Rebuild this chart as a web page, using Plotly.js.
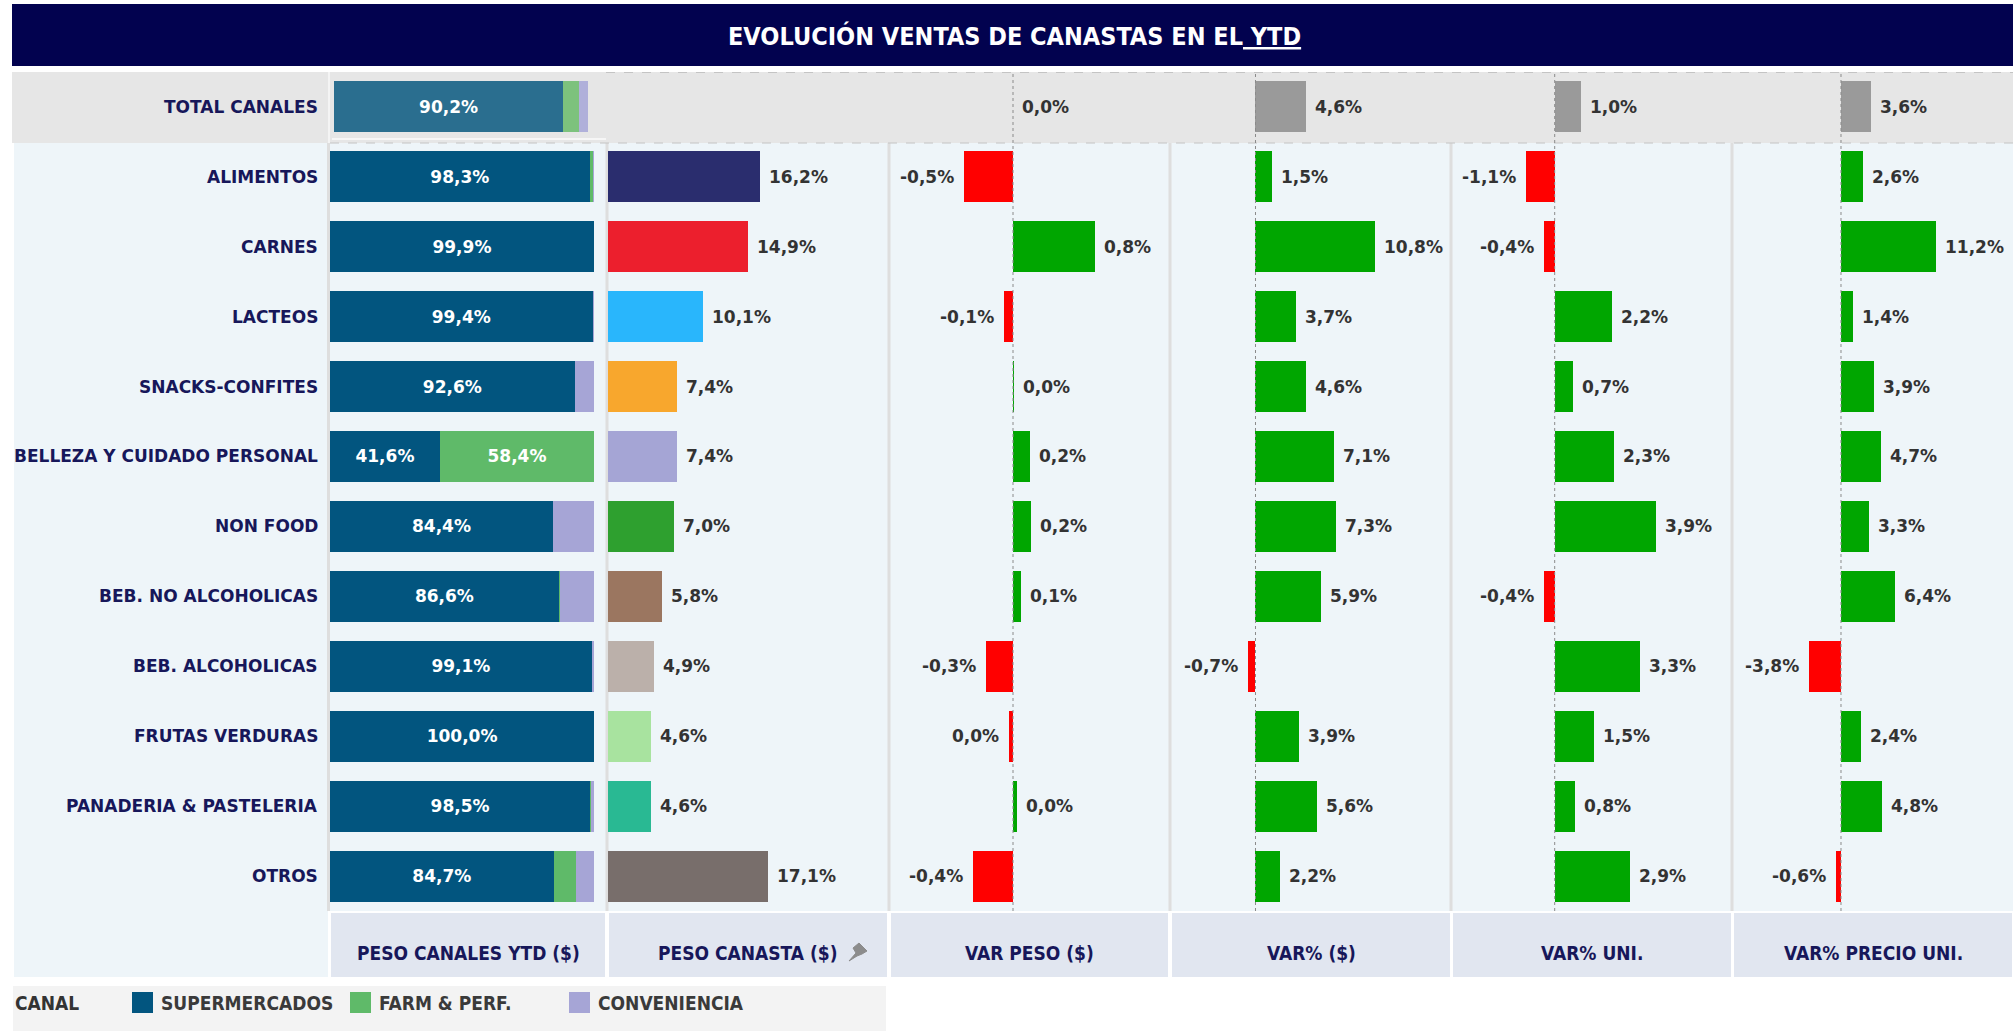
<!DOCTYPE html>
<html>
<head>
<meta charset="utf-8">
<script src="https://cdn.plot.ly/plotly-3.0.1.min.js"></script>
<style>html,body{margin:0;padding:0;background:#fff;}#chart{width:2013px;height:1031px;}</style>
</head>
<body>
<div id="chart"></div>
<script>
// ---------------- DATA ----------------
const categories = ['TOTAL CANALES','ALIMENTOS','CARNES','LACTEOS','SNACKS-CONFITES','BELLEZA Y CUIDADO PERSONAL','NON FOOD','BEB. NO ALCOHOLICAS','BEB. ALCOHOLICAS','FRUTAS VERDURAS','PANADERIA & PASTELERIA','OTROS'];
// Peso canales YTD ($), share by channel (%)
const supermercados = [90.2, 98.3, 99.9, 99.4, 92.6, 41.6, 84.4, 86.6, 99.1, 100.0, 98.5, 84.7];
const farmPerf      = [ 6.2,  1.2,  0.0,  0.3,  0.0, 58.4,  0.0,  0.3,  0.2,   0.0,  0.2,  8.3];
const conveniencia  = [ 3.6,  0.5,  0.1,  0.3,  7.4,  0.0, 15.6, 13.1,  0.7,   0.0,  1.3,  7.0];
// Peso canasta ($) %
const pesoCanasta = [null, 16.2, 14.9, 10.1, 7.4, 7.4, 7.0, 5.8, 4.9, 4.6, 4.6, 17.1];
// Var peso ($) points
const varPeso = [0.0, -0.49, 0.82, -0.09, 0.01, 0.17, 0.18, 0.08, -0.27, -0.04, 0.04, -0.40];
// Var% ($)
const varPesos = [4.6, 1.5, 10.8, 3.7, 4.6, 7.1, 7.3, 5.9, -0.7, 3.9, 5.6, 2.2];
// Var% uni.
const varUni = [1.0, -1.1, -0.4, 2.2, 0.7, 2.3, 3.9, -0.4, 3.3, 1.5, 0.8, 2.9];
// Var% precio uni.
const varPrecio = [3.6, 2.6, 11.2, 1.4, 3.9, 4.7, 3.3, 6.4, -3.8, 2.4, 4.8, -0.6];

const panelTitles = ['PESO CANALES YTD ($)','PESO CANASTA ($)','VAR PESO ($)','VAR% ($)','VAR% UNI.','VAR% PRECIO UNI.'];
const legendLabels = ['SUPERMERCADOS','FARM & PERF.','CONVENIENCIA'];

// ---------------- STYLE ----------------
const W = 2013, H = 1031;
const px = x => x / W;
const py = y => 1 - y / H;
const NARROW = 'Liberation Sans Narrow, DejaVu Sans Condensed, Arial Narrow, sans-serif';
const BOOK = 'DejaVu Sans, Verdana, sans-serif';
const NAVY = '#17175a';
const canastaColors = ['rgba(0,0,0,0)','#2a2d6e','#ec1f2d','#29b6fc','#f8a72d','#a5a5d5','#2ea02f','#9b7660','#bbb0aa','#a8e39f','#29b993','#786e6b'];
const chanColorsMain = ['#02557f','#5fba69','#a6a5d6'];
const chanColorsTotal = ['#2a6e8f','#7dc27d','#b0b0da'];
const POS = '#00a600', NEG = '#ff0000', TOT = '#9a9a9a';

// panel pixel boxes
const panels = [[330,606],[608,888],[890,1169],[1171,1451],[1452,1732],[1733,2013]];
const ranges = [[0,104.5],[0,29.9],[-1.23,1.56],[-7.64,17.68],[-3.95,6.82],[-12.75,20.31]];

const fmt = v => {
  if (v === null) return '';
  let s = Math.abs(v) < 0.05 ? '0.0' : v.toFixed(1);
  return s.replace('.', ',') + '%';
};

const BW = 0.73;
const traces = [];
// Panel 1 stacked: category rows on x, total row on its own scale (x7)
[supermercados, farmPerf, conveniencia].forEach((arr, k) => {
  traces.push({
    type:'bar', orientation:'h', xaxis:'x', yaxis:'y',
    y: categories.slice(1), x: arr.slice(1), width: BW,
    marker:{color: chanColorsMain[k]},
    text: arr.slice(1).map(v => v >= 30 ? fmt(v) : ''),
    textposition:'inside', insidetextanchor:'middle', constraintext:'none',
    textfont:{family:BOOK, size:17, color:'#ffffff', weight:'bold'},
    hoverinfo:'skip'
  });
  traces.push({
    type:'bar', orientation:'h', xaxis:'x7', yaxis:'y',
    y: [categories[0]], x: [arr[0]], width: BW,
    marker:{color: chanColorsTotal[k]},
    text: [arr[0] >= 30 ? fmt(arr[0]) : ''],
    textposition:'inside', insidetextanchor:'middle', constraintext:'none',
    textfont:{family:BOOK, size:17, color:'#ffffff', weight:'bold'},
    hoverinfo:'skip'
  });
});
// Panel 2
traces.push({
  type:'bar', orientation:'h', xaxis:'x2', yaxis:'y', y:categories, x:pesoCanasta, width:BW,
  marker:{color: canastaColors}, hoverinfo:'skip'
});
const varSeries = [varPeso, varPesos, varUni, varPrecio];
varSeries.forEach((arr, k) => {
  traces.push({
    type:'bar', orientation:'h', xaxis:'x'+(k+3), yaxis:'y', y:categories, x:arr, width:BW,
    marker:{color: arr.map((v,i)=> i===0 ? TOT : (v >= 0 ? POS : NEG))}, hoverinfo:'skip'
  });
});

// ---------------- SHAPES ----------------
const shapes = [];
const rect = (x0,y0,x1,y1,fill,extra) => Object.assign({type:'rect', xref:'paper', yref:'paper', x0:px(x0), x1:px(x1), y0:py(y1), y1:py(y0), fillcolor:fill, line:{width:0}, layer:'below'}, extra||{});
shapes.push(rect(12,4,2013,66,'#02024f'));
shapes.push(rect(12,72,2013,143,'#e6e6e6'));
shapes.push(rect(14,143,2013,911,'#eef5f9'));
shapes.push(rect(14,911,328,977,'#eef5f9'));
panels.forEach(p => shapes.push(rect(p[0]+1,913,p[1]-1,977,'#e1e6f0')));
shapes.push(rect(13,986,886,1031,'#f3f3f3'));
// separators
[328.5,607,889,1170,1451,1732].forEach(x => shapes.push({type:'line', xref:'paper', yref:'paper', x0:px(x), x1:px(x), y0:py(911), y1:py(143), line:{color:'#dedede', width:3}, layer:'below'}));
shapes.push({type:'line', xref:'paper', yref:'paper', x0:px(329), x1:px(329), y0:py(143), y1:py(72), line:{color:'#f4f4f4', width:2}, layer:'below'});
// dashed row borders
shapes.push({type:'line', xref:'paper', yref:'paper', x0:px(606), x1:px(2013), y0:py(72.5), y1:py(72.5), line:{color:'#c4c4c4', width:1, dash:'dash'}});
shapes.push({type:'line', xref:'paper', yref:'paper', x0:px(330), x1:px(2013), y0:py(143), y1:py(143), line:{color:'#c4c4c4', width:1, dash:'dash'}});
shapes.push({type:'line', xref:'paper', yref:'paper', x0:px(332), x1:px(606), y0:py(139), y1:py(139), line:{color:'#f6f6f6', width:2}});
// zero lines
[3,4,5,6].forEach(k => shapes.push({type:'line', xref:'x'+k, yref:'paper', x0:0, x1:0, y0:py(911), y1:py(72), line:{color:'#8a8a8a', width:1, dash:'dot'}}));
// legend swatches
const swX = [132, 350, 569];
swX.forEach((x,k) => shapes.push(Object.assign(rect(x,992,x+21,1013,chanColorsMain[k]), {layer:'above'})));
// pin icon next to PESO CANASTA ($)
const pin = [[849,961],[856,953],[853,948],[859,943],[867,951],[862,954],[857,956]];
shapes.push({type:'path', xref:'paper', yref:'paper', layer:'above',
  path:'M'+pin.map(p=>px(p[0])+','+py(p[1])).join(' L')+' Z', fillcolor:'#8c8c8c', line:{color:'#8c8c8c', width:1}});

// ---------------- ANNOTATIONS ----------------
const ann = [];
ann.push({xref:'paper', yref:'paper', x:px(1014), y:py(36), xanchor:'center', yanchor:'middle', showarrow:false,
  text:'EVOLUCIÓN VENTAS DE CANASTAS EN EL<span style="text-decoration:underline"> YTD</span>',
  font:{family:NARROW, size:25, color:'#ffffff', weight:'bold'}});
categories.forEach(c => ann.push({xref:'paper', yref:'y', x:px(320), y:c, xanchor:'right', yanchor:'middle', showarrow:false,
  text:c, font:{family:BOOK, size:17, color:NAVY, weight:'bold'}}));
// value labels
const labelSeries = [pesoCanasta, varPeso, varPesos, varUni, varPrecio];
labelSeries.forEach((arr, k) => {
  arr.forEach((v, i) => {
    if (v === null) return;
    const neg = v < 0;
    ann.push({xref:'x'+(k+2), yref:'y', x:v, y:categories[i], xanchor: neg ? 'right' : 'left', yanchor:'middle',
      xshift: neg ? -8 : 7, showarrow:false, text:fmt(v), font:{family:BOOK, size:17, color:'#333333', weight:'bold'}});
  });
});
// panel titles
panelTitles.forEach((t,k) => ann.push({xref:'paper', yref:'paper', x:px((panels[k][0]+panels[k][1])/2), y:py(953), xanchor:'center', yanchor:'middle', showarrow:false,
  text:t, font:{family:NARROW, size:19, color:NAVY, weight:'bold'}}));
// legend
ann.push({xref:'paper', yref:'paper', x:px(13), y:py(1003), xanchor:'left', yanchor:'middle', showarrow:false, text:'CANAL', font:{family:NARROW, size:19, color:'#333333', weight:'bold'}});
legendLabels.forEach((t,k) => ann.push({xref:'paper', yref:'paper', x:px(swX[k]+27), y:py(1003), xanchor:'left', yanchor:'middle', showarrow:false,
  text:t, font:{family:NARROW, size:19, color:'#3a3a3a', weight:'bold'}}));

// ---------------- LAYOUT ----------------
const axBase = {showticklabels:false, showgrid:false, zeroline:false, showline:false, ticks:'', fixedrange:true};
const layout = {
  width:W, height:H, margin:{l:0,r:0,t:0,b:0,pad:0},
  paper_bgcolor:'#ffffff', plot_bgcolor:'rgba(0,0,0,0)',
  showlegend:false, barmode:'stack',
  yaxis: Object.assign({}, axBase, {domain:[py(911), py(71.8)], type:'category', categoryorder:'array', categoryarray:categories, range:[11.5,-0.5], anchor:'x'}),
  shapes: shapes, annotations: ann
};
panels.forEach((p,k) => {
  layout['xaxis'+(k===0?'':k+1)] = Object.assign({}, axBase, {domain:[px(p[0]), px(p[1])], range:ranges[k], anchor:'y'});
});
// total row has its own scale in panel 1 (bar spans 334 -> 588 px)
layout.xaxis7 = Object.assign({}, axBase, {domain:[px(334), px(606)], range:[0, 107.1], anchor:'y'});
Plotly.newPlot('chart', traces, layout, {displayModeBar:false, staticPlot:true});
</script>
</body>
</html>
